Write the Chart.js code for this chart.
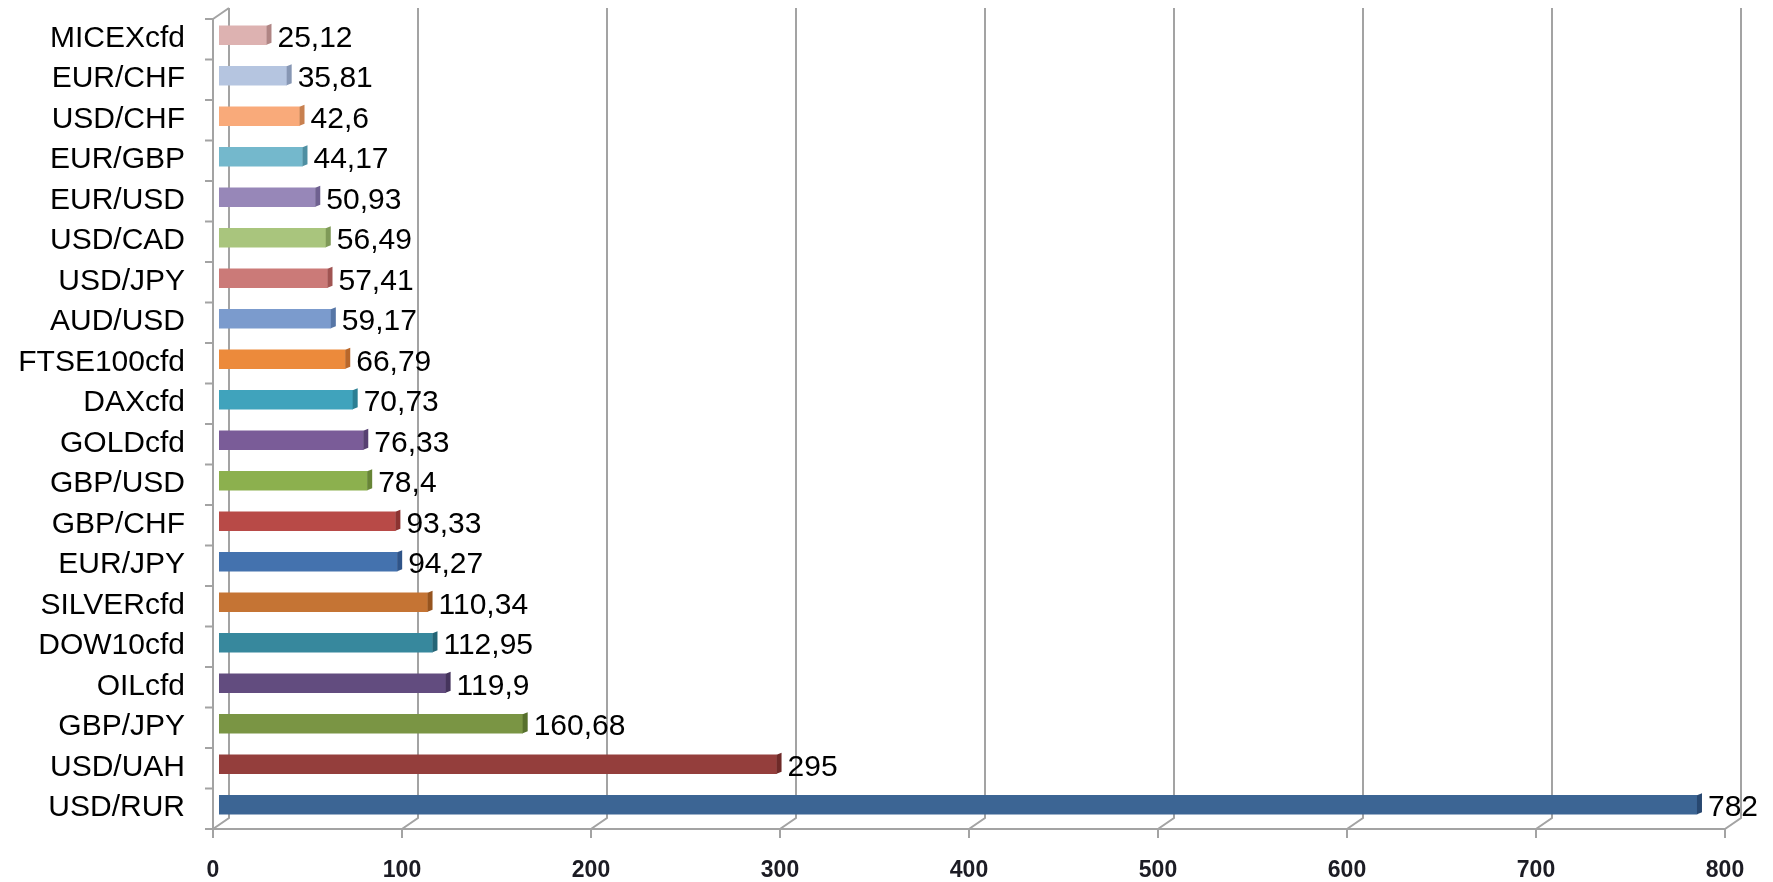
<!DOCTYPE html>
<html lang="ru">
<head>
    <meta charset="UTF-8">
    <title>Инструменты</title>
    <script src="https://cdn.jsdelivr.net/npm/chart.js"></script>
    <style>
        body { margin: 0; background: #ffffff; }
        #wrap { width: 1773px; height: 882px; }
    </style>
</head>
<body>
    <div id="wrap"><canvas id="barsChart" width="1773" height="882"></canvas></div>

    <script>
        // Datos (de arriba hacia abajo)
        const categories = ['MICEXcfd', 'EUR/CHF', 'USD/CHF', 'EUR/GBP', 'EUR/USD', 'USD/CAD', 'USD/JPY', 'AUD/USD',
            'FTSE100cfd', 'DAXcfd', 'GOLDcfd', 'GBP/USD', 'GBP/CHF', 'EUR/JPY', 'SILVERcfd', 'DOW10cfd',
            'OILcfd', 'GBP/JPY', 'USD/UAH', 'USD/RUR'];
        const values = [25.12, 35.81, 42.6, 44.17, 50.93, 56.49, 57.41, 59.17, 66.79, 70.73, 76.33, 78.4,
            93.33, 94.27, 110.34, 112.95, 119.9, 160.68, 295, 782];
        const xTicks = [0, 100, 200, 300, 400, 500, 600, 700, 800];

        const barColors = ['#DDB2B1', '#B5C5E0', '#F9AA7A', '#74B8CC', '#9787B8', '#A9C57D', '#CB7A78', '#7B9BCD',
            '#EC8A3B', '#40A3BC', '#7A5C98', '#8CB04E', '#B84A47', '#4472AE', '#C57434', '#37889D',
            '#624C7F', '#7A9544', '#943E3C', '#3C6594'];
        const capColors = ['#B08584', '#8797B4', '#C8804F', '#4E8FA2', '#6F6190', '#7F9A58', '#A05452', '#5676A6',
            '#B9672A', '#2C7F93', '#574072', '#678536', '#8C3331', '#2F5488', '#96541F', '#246576',
            '#45345C', '#57702D', '#6E2A28', '#284870'];

        const gridColor = '#a3a3a3';

        // Marco 3D: pared del fondo, suelo y pared izquierda
        const frame3d = {
            id: 'frame3d',
            beforeDatasetsDraw(chart) {
                const ctx = chart.ctx;
                const xs = chart.scales.x;
                const area = chart.chartArea;
                const frontY = area.bottom + 4;
                const dx = 16, dy = -11;
                ctx.save();
                ctx.strokeStyle = gridColor;
                ctx.lineWidth = 2;
                ctx.beginPath();
                xTicks.forEach(v => {
                    const fx = xs.getPixelForValue(v) - 6;
                    // linea del fondo
                    ctx.moveTo(fx + dx, 8);
                    ctx.lineTo(fx + dx, frontY + dy);
                    // diagonal del suelo
                    ctx.lineTo(fx, frontY);
                    // marca
                    ctx.lineTo(fx, frontY + 9);
                });
                // linea frontal del suelo
                const x0 = xs.getPixelForValue(0) - 6;
                const x1 = xs.getPixelForValue(800) - 6;
                ctx.moveTo(x0, frontY);
                ctx.lineTo(x1, frontY);
                // pared izquierda
                const topY = area.top + 4;
                ctx.moveTo(x0, topY);
                ctx.lineTo(x0, frontY);
                ctx.moveTo(x0, topY);
                ctx.lineTo(x0 + dx, topY + dy);
                const step = (area.bottom - area.top) / categories.length;
                for (let k = 0; k <= categories.length; k++) {
                    const y = topY + k * step;
                    ctx.moveTo(x0 - 8, y);
                    ctx.lineTo(x0, y);
                }
                ctx.stroke();
                ctx.restore();
            },
            afterDatasetsDraw(chart) {
                const ctx = chart.ctx;
                const meta = chart.getDatasetMeta(0);
                ctx.save();
                // cara lateral de cada barra
                meta.data.forEach((bar, i) => {
                    const top = bar.y - bar.height / 2;
                    const bottom = bar.y + bar.height / 2;
                    ctx.fillStyle = capColors[i];
                    ctx.beginPath();
                    ctx.moveTo(bar.x, top);
                    ctx.lineTo(bar.x + 5, top - 2);
                    ctx.lineTo(bar.x + 5, bottom - 2);
                    ctx.lineTo(bar.x, bottom);
                    ctx.closePath();
                    ctx.fill();
                });
                ctx.font = '30px "Liberation Sans", Arial, sans-serif';
                ctx.fillStyle = '#000000';
                ctx.textAlign = 'left';
                ctx.textBaseline = 'middle';
                meta.data.forEach((bar, i) => {
                    const txt = String(values[i]).replace('.', ',');
                    ctx.fillText(txt, bar.x + 11, bar.y + 3);
                });
                ctx.restore();
            }
        };

        const ctx = document.getElementById('barsChart').getContext('2d');
        const barsChart = new Chart(ctx, {
            type: 'bar',
            data: {
                labels: categories,
                datasets: [{
                    data: values,
                    backgroundColor: barColors,
                    borderWidth: 0,
                    barThickness: 19
                }]
            },
            options: {
                indexAxis: 'y',
                responsive: false,
                animation: false,
                devicePixelRatio: 1,
                layout: { padding: { top: 15, right: 42, left: 0, bottom: 0 } },
                plugins: {
                    legend: { display: false },
                    tooltip: { enabled: false }
                },
                scales: {
                    x: {
                        min: 0,
                        max: 800,
                        grid: { display: false, drawTicks: false },
                        border: { display: false },
                        ticks: {
                            stepSize: 100,
                            padding: 32,
                            labelOffset: -6,
                            color: '#1c1c24',
                            font: { family: '"Liberation Sans", Arial, sans-serif', size: 23, weight: 'bold' }
                        },
                        afterFit(scale) {
                            scale.height = 57;
                            scale.paddingLeft = 0;
                            scale.paddingRight = 0;
                        }
                    },
                    y: {
                        grid: { display: false, drawTicks: false },
                        border: { display: false },
                        ticks: {
                            autoSkip: false,
                            padding: 34,
                            labelOffset: 3,
                            color: '#000000',
                            font: { family: '"Liberation Sans", Arial, sans-serif', size: 30 }
                        },
                        afterFit(scale) {
                            scale.width = 219;
                            scale.paddingTop = 0;
                            scale.paddingBottom = 0;
                        }
                    }
                }
            },
            plugins: [frame3d]
        });
    </script>
</body>
</html>
